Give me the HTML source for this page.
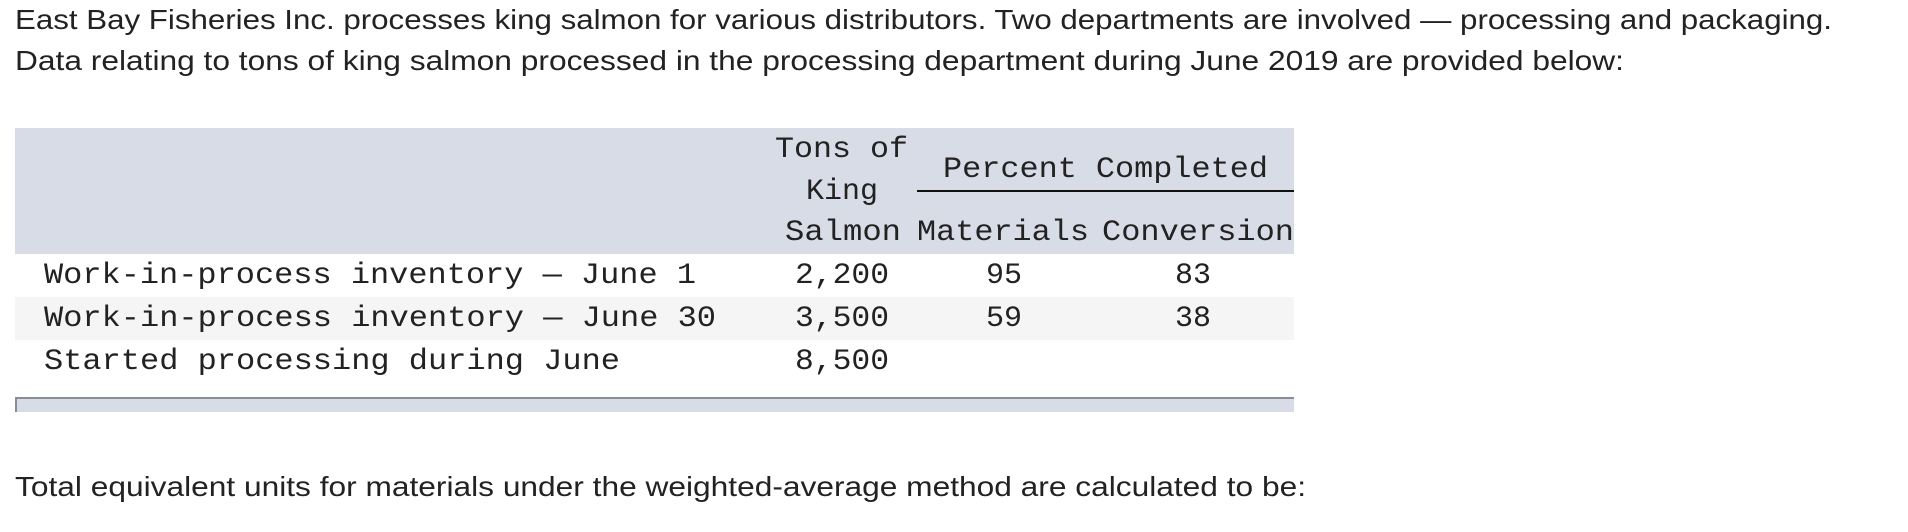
<!DOCTYPE html>
<html><head><meta charset="utf-8"><style>html,body{margin:0;padding:0;background:#fff}svg{display:block}</style></head>
<body>
<svg width="1908" height="532" viewBox="0 0 1908 532" xmlns="http://www.w3.org/2000/svg">
<g font-family="Liberation Sans, sans-serif" font-size="28" fill="#222">
<text x="15" y="29" textLength="1817" lengthAdjust="spacingAndGlyphs">East Bay Fisheries Inc. processes king salmon for various distributors. Two departments are involved — processing and packaging.</text>
<text x="15" y="70" textLength="1609" lengthAdjust="spacingAndGlyphs">Data relating to tons of king salmon processed in the processing department during June 2019 are provided below:</text>
<text x="15" y="496" textLength="1291" lengthAdjust="spacingAndGlyphs">Total equivalent units for materials under the weighted-average method are calculated to be:</text>
</g>
<g>
<rect x="15" y="128" width="1279" height="126" fill="#d8dce6"/>
<rect x="15" y="297" width="1279" height="43" fill="#f5f5f5"/>
<rect x="15" y="397" width="1279" height="15" fill="#d8dce6"/>
<line x1="15" y1="398" x2="1294" y2="398" stroke="#8a8d93" stroke-width="2"/>
<line x1="16" y1="397" x2="16" y2="412" stroke="#8a8d93" stroke-width="2"/>
<line x1="917" y1="191" x2="1294" y2="191" stroke="#111" stroke-width="2"/>
<g font-family="Liberation Mono, monospace" font-size="30" fill="#222">
<text x="775" y="157" textLength="133" lengthAdjust="spacingAndGlyphs">Tons of</text>
<text x="842" y="199" text-anchor="middle">King</text>
<text x="785" y="240" textLength="116" lengthAdjust="spacingAndGlyphs">Salmon</text>
<text x="943" y="177" textLength="325" lengthAdjust="spacingAndGlyphs">Percent Completed</text>
<text x="917" y="240" textLength="172" lengthAdjust="spacingAndGlyphs">Materials</text>
<text x="1102" y="240" textLength="192" lengthAdjust="spacingAndGlyphs">Conversion</text>
<text x="44" y="283" textLength="652" lengthAdjust="spacingAndGlyphs">Work-in-process inventory — June 1</text>
<text x="44" y="326" textLength="672" lengthAdjust="spacingAndGlyphs">Work-in-process inventory — June 30</text>
<text x="44" y="369" textLength="576" lengthAdjust="spacingAndGlyphs">Started processing during June</text>
<text x="842" y="283" text-anchor="middle" textLength="94" lengthAdjust="spacingAndGlyphs">2,200</text>
<text x="842" y="326" text-anchor="middle" textLength="94" lengthAdjust="spacingAndGlyphs">3,500</text>
<text x="842" y="369" text-anchor="middle" textLength="94" lengthAdjust="spacingAndGlyphs">8,500</text>
<text x="1004" y="283" text-anchor="middle">95</text>
<text x="1004" y="326" text-anchor="middle">59</text>
<text x="1193" y="283" text-anchor="middle">83</text>
<text x="1193" y="326" text-anchor="middle">38</text>
</g>
</g>
</svg>
</body></html>
